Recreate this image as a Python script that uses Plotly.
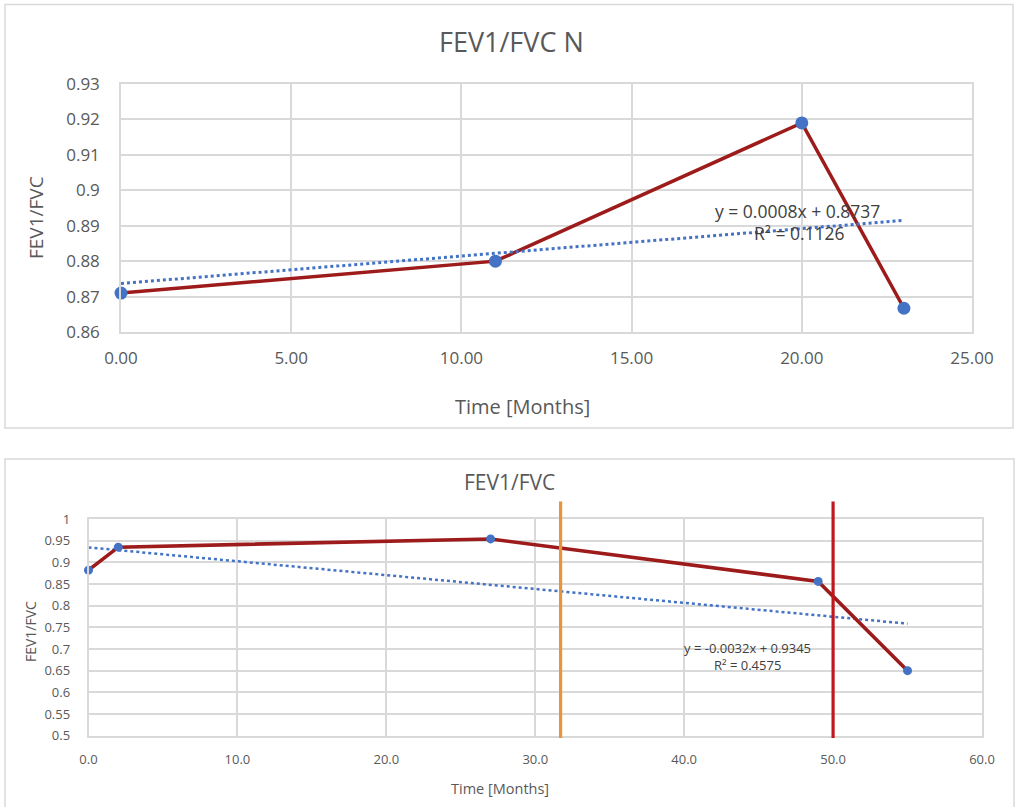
import plotly.graph_objects as go

W, H = 1021, 807

# ---------- data: top chart ----------
top_months = [0, 11, 20, 23]
top_ratio = [0.871, 0.880, 0.919, 0.8667]
top_trend_slope = 0.000774
top_trend_intercept = 0.8737
top_eq_lines = ["y = 0.0008x + 0.8737", "R² = 0.1126"]
top_yticks = [0.86, 0.87, 0.88, 0.89, 0.90, 0.91, 0.92, 0.93]
top_yticktext = ["0.86", "0.87", "0.88", "0.89", "0.9", "0.91", "0.92", "0.93"]
top_xticks = [0, 5, 10, 15, 20, 25]
top_xticktext = ["0.00", "5.00", "10.00", "15.00", "20.00", "25.00"]

# ---------- data: bottom chart ----------
bot_months = [0, 2, 27, 49, 55]
bot_ratio = [0.882, 0.935, 0.954, 0.856, 0.650]
bot_trend_slope = -0.0032
bot_trend_intercept = 0.9345
bot_eq_lines = ["y = -0.0032x + 0.9345", "R² = 0.4575"]
bot_yticks = [0.5, 0.55, 0.6, 0.65, 0.7, 0.75, 0.8, 0.85, 0.9, 0.95, 1.0]
bot_yticktext = ["0.5", "0.55", "0.6", "0.65", "0.7", "0.75", "0.8", "0.85", "0.9", "0.95", "1"]
bot_xticks = [0, 10, 20, 30, 40, 50, 60]
bot_xticktext = ["0.0", "10.0", "20.0", "30.0", "40.0", "50.0", "60.0"]
event_months = [31.7, 50.0]
event_colors = ["#E8943A", "#C0171D"]

FONT = "Open Sans"
TXT = "#595959"
GRID = "#D9D9D9"
LINE_RED = "#9E1B1B"
BLUE = "#4472C4"


def px_x(p):
    return p / W


def px_y(p):
    return 1 - p / H


fig = go.Figure()

# top chart traces
fig.add_trace(go.Scatter(
    x=top_months, y=top_ratio, mode="lines+markers",
    line=dict(color=LINE_RED, width=3.5),
    marker=dict(color=BLUE, size=13),
    cliponaxis=False, xaxis="x", yaxis="y", showlegend=False))
tx = [min(top_months), max(top_months)]
fig.add_trace(go.Scatter(
    x=tx, y=[top_trend_intercept + top_trend_slope * v for v in tx],
    mode="lines", line=dict(color=BLUE, width=3, dash="dot"),
    xaxis="x", yaxis="y", showlegend=False))

# bottom chart traces
bx = [min(bot_months), max(bot_months)]
fig.add_trace(go.Scatter(
    x=bx, y=[bot_trend_intercept + bot_trend_slope * v for v in bx],
    mode="lines", line=dict(color=BLUE, width=2.5, dash="dot"),
    xaxis="x2", yaxis="y2", showlegend=False))
fig.add_trace(go.Scatter(
    x=bot_months, y=bot_ratio, mode="lines+markers",
    line=dict(color=LINE_RED, width=3.6),
    marker=dict(color=BLUE, size=9),
    cliponaxis=False, xaxis="x2", yaxis="y2", showlegend=False))

axis_common = dict(showgrid=True, gridcolor=GRID, gridwidth=1.5,
                   showline=True, linecolor=GRID, linewidth=1.5, mirror=True,
                   zeroline=False, ticks="", automargin=False)

fig.update_layout(
    template=None,
    width=W, height=H,
    margin=dict(l=0, r=0, t=0, b=0, pad=0),
    paper_bgcolor="white", plot_bgcolor="white",
    font=dict(family=FONT, color=TXT),
    showlegend=False,
    xaxis=dict(domain=[px_x(121), px_x(972)], range=[0, 25],
               tickvals=top_xticks, ticktext=top_xticktext,
               tickfont=dict(size=17, color=TXT), ticklabelstandoff=10,
               anchor="y", **axis_common),
    yaxis=dict(domain=[px_y(332), px_y(84)], range=[0.86, 0.93],
               tickvals=top_yticks, ticktext=top_yticktext,
               tickfont=dict(size=17, color=TXT), ticklabelstandoff=16,
               anchor="x", **axis_common),
    xaxis2=dict(domain=[px_x(88.5), px_x(982)], range=[0, 60],
                tickvals=bot_xticks, ticktext=bot_xticktext,
                tickfont=dict(size=13, color=TXT), ticklabelstandoff=11,
                anchor="y2", **axis_common),
    yaxis2=dict(domain=[px_y(735.7), px_y(519)], range=[0.5, 1.0],
                tickvals=bot_yticks, ticktext=bot_yticktext,
                tickfont=dict(size=13, color=TXT), ticklabelstandoff=14,
                anchor="x2", **axis_common),
)

shapes = [
    # chart frames
    dict(type="rect", xref="paper", yref="paper",
         x0=px_x(5), x1=px_x(1013), y0=px_y(428), y1=px_y(4.5),
         line=dict(color=GRID, width=1.5), layer="below"),
    dict(type="rect", xref="paper", yref="paper",
         x0=px_x(5), x1=px_x(1014), y0=-0.02, y1=px_y(459),
         line=dict(color=GRID, width=1.5), layer="below"),
]
for xm, col in zip(event_months, event_colors):
    shapes.append(dict(type="line", xref="x2", yref="paper",
                       x0=xm, x1=xm, y0=px_y(738), y1=px_y(501.5),
                       line=dict(color=col, width=3.2), layer="above"))
fig.update_layout(shapes=shapes)

ann = []


def add_text(text, x, y, size, color=TXT, angle=0):
    ann.append(dict(text=text, x=px_x(x), y=px_y(y), xref="paper", yref="paper",
                    showarrow=False, xanchor="center", yanchor="middle",
                    textangle=angle, font=dict(family=FONT, size=size, color=color)))


add_text("FEV1/FVC N", 511, 41, 27)
add_text("FEV1/FVC", 36, 218, 19, angle=-90)
add_text("Time [Months]", 522, 406, 20)
add_text(top_eq_lines[0], 797, 211, 17.5, color="#404040")
add_text(top_eq_lines[1], 799, 233, 17.5, color="#404040")

add_text("FEV1/FVC", 509, 482, 21)
add_text("FEV1/FVC", 30, 632, 14, angle=-90)
add_text("Time [Months]", 500, 788, 14.5)
add_text(bot_eq_lines[0], 747, 648, 13, color="#404040")
add_text(bot_eq_lines[1], 747, 665, 13, color="#404040")

fig.update_layout(annotations=ann)

fig.write_html(
    "out.html",
    config={"displayModeBar": False},
    post_script="document.body.style.margin='0';document.body.style.overflow='hidden';",
)
